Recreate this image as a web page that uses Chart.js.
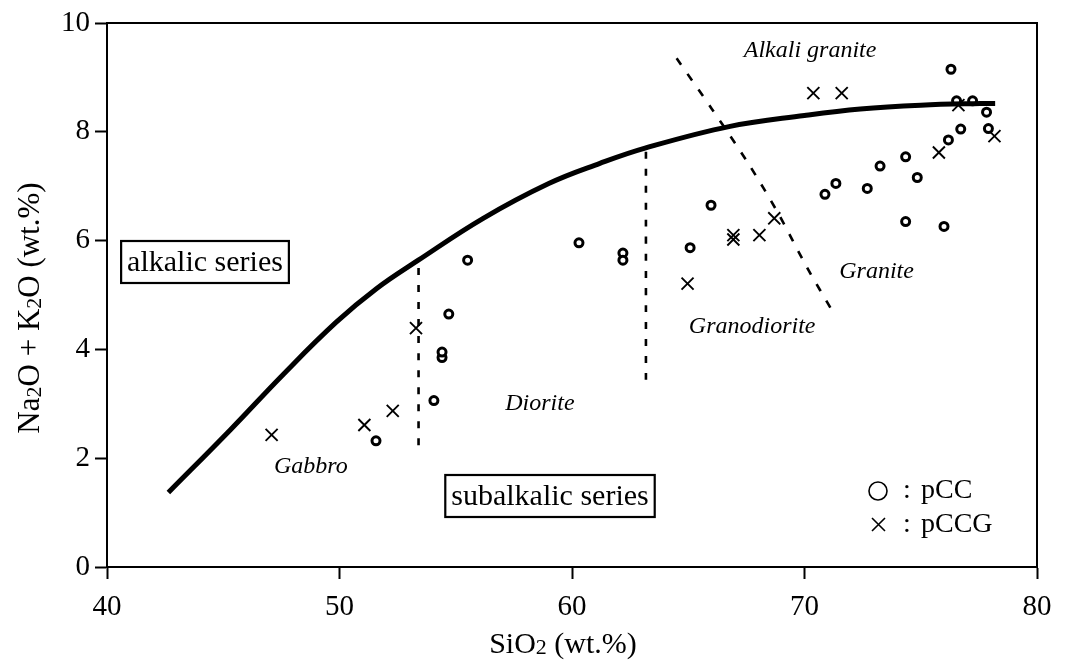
<!DOCTYPE html>
<html>
<head>
<meta charset="utf-8">
<script src="https://cdn.jsdelivr.net/npm/chart.js@4.4.1/dist/chart.umd.min.js"></script>
<style>
  html, body { margin: 0; padding: 0; background: #fff; }
  #wrap { width: 1080px; height: 668px; }
</style>
</head>
<body>
<div id="wrap"><canvas id="tas" width="1080" height="668"></canvas></div>
<script>
// SiO2 vs total alkali
const pccX = [51.57, 54.06, 54.41, 54.41, 54.70, 55.51, 60.30, 62.19, 62.19, 65.08, 65.98, 70.88, 71.35,
  72.70, 73.25, 74.35, 74.85, 74.35, 76.00, 76.19, 76.72, 76.30, 76.54, 77.23, 77.83, 77.91];
const pccY = [2.32, 3.06, 3.85, 3.95, 4.65, 5.64, 5.96, 5.77, 5.64, 5.87, 6.65, 6.85, 7.05,
  6.96, 7.37, 7.54, 7.16, 6.35, 6.26, 7.85, 8.05, 9.15, 8.57, 8.57, 8.36, 8.06];

const pccgX = [47.08, 51.07, 52.29, 53.29, 64.97, 66.94, 66.94, 68.06, 68.70, 70.38, 71.60, 75.78, 76.62, 78.17];
const pccgY = [2.43, 2.61, 2.87, 4.39, 5.21, 6.10, 6.02, 6.10, 6.41, 8.71, 8.71, 7.62, 8.49, 7.92];

// alkalic / subalkalic dividing curve
const curveX = [42.64, 45.3, 47.6, 49.86, 51.6, 53.39, 56.18, 59.0, 61.2, 63.14, 66.8, 70.0, 72.4, 75.0, 77.55, 78.2];
const curveY = [1.37, 2.52, 3.55, 4.50, 5.12, 5.64, 6.41, 7.05, 7.42, 7.70, 8.10, 8.30, 8.42, 8.49, 8.52, 8.52];

// rock-name boundaries (dashed)
const gabbroLineX = [53.4, 53.4];
const gabbroLineY = [2.24, 5.62];
const dioriteLineX = [63.18, 63.18];
const dioriteLineY = [3.44, 7.67];
const graniteLineX = [64.5, 66.0, 67.58, 68.87, 70.09, 71.3];
const graniteLineY = [9.35, 8.43, 7.42, 6.50, 5.52, 4.63];

const xTicks = [40, 50, 60, 70, 80];
const yTicks = [0, 2, 4, 6, 8, 10];

const pts = (xs, ys) => xs.map((x, i) => ({ x: x, y: ys[i] }));

const SERIF = '"Liberation Serif", "Times New Roman", serif';

const rockNames = [
  { text: 'Alkali granite', x: 70.24, y: 9.5 },
  { text: 'Granite', x: 73.1, y: 5.43 },
  { text: 'Granodiorite', x: 67.75, y: 4.41 },
  { text: 'Diorite', x: 58.62, y: 3.01 },
  { text: 'Gabbro', x: 48.77, y: 1.84 }
];

// text with subscript parts: [[str, isSub], ...], centred on (cx, cy)
function subText(ctx, parts, cx, cy, size) {
  const big = size + 'px ' + SERIF, small = Math.round(size * 0.72) + 'px ' + SERIF;
  let w = 0;
  parts.forEach(p => { ctx.font = p[1] ? small : big; w += ctx.measureText(p[0]).width; });
  let x = cx - w / 2;
  ctx.textAlign = 'left';
  ctx.textBaseline = 'middle';
  parts.forEach(p => {
    ctx.font = p[1] ? small : big;
    ctx.fillText(p[0], x, p[1] ? cy + size * 0.12 : cy);
    x += ctx.measureText(p[0]).width;
  });
}

const overlay = {
  id: 'overlay',
  afterDraw(chart) {
    const ctx = chart.ctx;
    const a = chart.chartArea;
    const sx = chart.scales.x, sy = chart.scales.y;
    ctx.save();

    // frame top & right
    ctx.strokeStyle = '#000';
    ctx.lineWidth = 2;
    ctx.beginPath();
    ctx.moveTo(a.left, a.top);
    ctx.lineTo(a.right, a.top);
    ctx.lineTo(a.right, a.bottom);
    ctx.stroke();

    // italic rock names
    ctx.fillStyle = '#000';
    ctx.font = 'italic 24px ' + SERIF;
    ctx.textAlign = 'center';
    ctx.textBaseline = 'middle';
    rockNames.forEach(r => ctx.fillText(r.text, sx.getPixelForValue(r.x), sy.getPixelForValue(r.y)));

    // boxed series labels
    ctx.font = '30px ' + SERIF;
    const boxed = (txt, cx, cy) => {
      const w = ctx.measureText(txt).width + 12;
      ctx.lineWidth = 2.2;
      ctx.strokeRect(cx - w / 2, cy - 21, w, 42);
      ctx.fillText(txt, cx, cy + 1);
    };
    boxed('alkalic series', 205, 262);
    boxed('subalkalic series', 550, 496);

    // legend
    ctx.textAlign = 'left';
    ctx.font = '28px ' + SERIF;
    ctx.lineWidth = 1.6;
    ctx.beginPath();
    ctx.arc(878, 491, 9, 0, Math.PI * 2);
    ctx.stroke();
    ctx.beginPath();
    ctx.moveTo(872, 518); ctx.lineTo(885, 531);
    ctx.moveTo(885, 518); ctx.lineTo(872, 531);
    ctx.stroke();
    ctx.fillText(':', 903, 491);
    ctx.fillText('pCC', 921, 491);
    ctx.fillText(':', 903, 525);
    ctx.fillText('pCCG', 921, 525);

    // axis titles
    subText(ctx, [['SiO', 0], ['2', 1], [' (wt.%)', 0]], 563, 645, 30);
    ctx.translate(31, 308);
    ctx.rotate(-Math.PI / 2);
    subText(ctx, [['Na', 0], ['2', 1], ['O + K', 0], ['2', 1], ['O (wt.%)', 0]], 0, 0, 31);
    ctx.restore();
  }
};

const dashed = (data, dash) => ({
  type: 'line',
  data: data,
  borderColor: '#000',
  borderWidth: 2.6,
  borderDash: dash,
  pointRadius: 0,
  tension: 0.3,
  fill: false
});

new Chart(document.getElementById('tas'), {
  type: 'scatter',
  data: {
    datasets: [
      {
        type: 'line',
        data: pts(curveX, curveY),
        borderColor: '#000',
        borderWidth: 5,
        pointRadius: 0,
        tension: 0.4,
        fill: false
      },
      dashed(pts(gabbroLineX, gabbroLineY), [7, 10]),
      dashed(pts(dioriteLineX, dioriteLineY), [7, 10]),
      dashed(pts(graniteLineX, graniteLineY), [8, 11]),
      {
        label: 'pCC',
        data: pts(pccX, pccY),
        pointStyle: 'circle',
        pointRadius: 4,
        borderWidth: 3,
        borderColor: '#000',
        backgroundColor: '#fff'
      },
      {
        label: 'pCCG',
        data: pts(pccgX, pccgY),
        pointStyle: 'crossRot',
        pointRadius: 8.5,
        borderWidth: 1.9,
        borderColor: '#000'
      }
    ]
  },
  options: {
    responsive: false,
    devicePixelRatio: 1,
    animation: false,
    layout: { padding: { top: 23, right: 43, left: 0, bottom: 0 } },
    plugins: { legend: { display: false }, tooltip: { enabled: false } },
    scales: {
      x: {
        type: 'linear',
        min: 40, max: 80,
        afterBuildTicks: s => { s.ticks = xTicks.map(v => ({ value: v })); },
        afterFit: s => { s.height = 101; },
        ticks: { color: '#000', font: { family: SERIF, size: 29 }, padding: 11 },
        grid: { display: true, drawOnChartArea: false, drawTicks: true, tickLength: 12, tickWidth: 2, color: '#000' },
        border: { display: true, color: '#000', width: 2 }
      },
      y: {
        type: 'linear',
        min: 0, max: 10,
        afterBuildTicks: s => { s.ticks = yTicks.map(v => ({ value: v })); },
        afterFit: s => { s.width = 107; },
        ticks: { color: '#000', font: { family: SERIF, size: 29 }, padding: 5 },
        grid: { display: true, drawOnChartArea: false, drawTicks: true, tickLength: 12, tickWidth: 2, color: '#000' },
        border: { display: true, color: '#000', width: 2 }
      }
    }
  },
  plugins: [overlay]
});
</script>
</body>
</html>
